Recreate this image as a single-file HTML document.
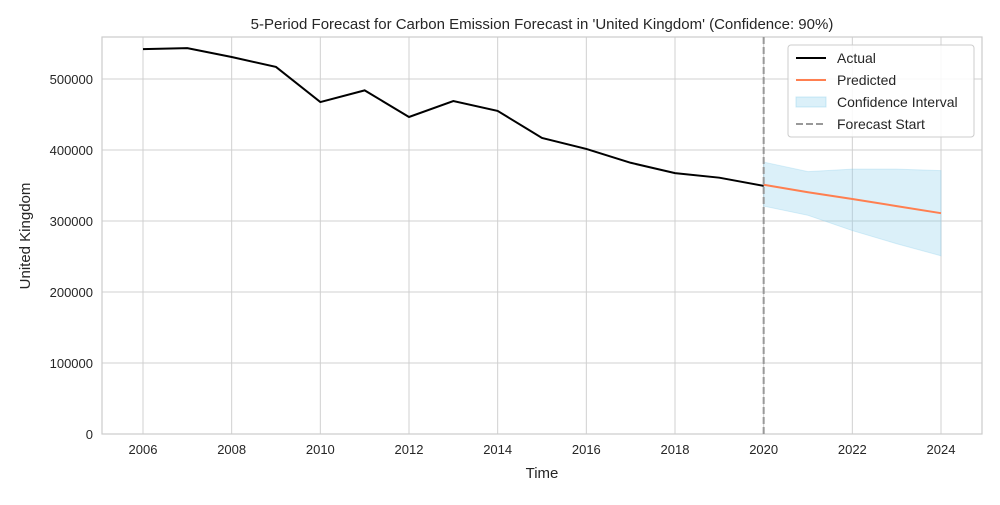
<!DOCTYPE html>
<html><head><meta charset="utf-8"><style>
body{margin:0;background:#fff;font-family:"Liberation Sans","DejaVu Sans",sans-serif;}
svg text{font-family:"Liberation Sans","DejaVu Sans",sans-serif;fill:#262626;}
</style></head><body>
<svg id="chart" width="1000" height="500"></svg>
<script>
const actualYears=[2006,2007,2008,2009,2010,2011,2012,2013,2014,2015,2016,2017,2018,2019,2020];
const actualValues=[542000,543500,531000,517000,467500,484000,446500,469000,455000,417000,401500,382000,367500,361000,349500];
const predYears=[2020,2021,2022,2023,2024];
const predValues=[351000,340500,331000,321000,311000];
const ciUpper=[383000,369500,373000,373000,371000];
const ciLower=[321000,308000,286500,268000,251000];
const xTicks=[2006,2008,2010,2012,2014,2016,2018,2020,2022,2024];
const yTicks=[0,100000,200000,300000,400000,500000];
const forecastStart=2020;

const L=102,R=982,T=37,B=434;
const X=v=>143+(v-2006)*(941-143)/18;
const Y=v=>B-v*(B-79)/500000;
const svg=document.getElementById('chart');
const NS='http://www.w3.org/2000/svg';
function mk(tag,attrs,parent){const e=document.createElementNS(NS,tag);for(const k in attrs)e.setAttribute(k,attrs[k]);(parent||svg).appendChild(e);return e;}

const grid=mk('g',{});


xTicks.forEach(t=>{mk('line',{x1:X(t),x2:X(t),y1:T,y2:B,stroke:'#d0d0d0','stroke-width':1},grid);
 const tx=mk('text',{x:X(t),y:B+20,'text-anchor':'middle','font-size':13});tx.textContent=t;
 
 });
yTicks.forEach(t=>{mk('line',{x1:L,x2:R,y1:Y(t),y2:Y(t),stroke:'#d0d0d0','stroke-width':1},grid);
 const tx=mk('text',{x:L-9,y:Y(t)+5,'text-anchor':'end','font-size':13});tx.textContent=t;
 
 });
const frame=mk('rect',{x:L,y:T,width:R-L,height:B-T,fill:'none',stroke:'#cccccc','stroke-width':1.2});



let d=predYears.map((y,i)=>(i?'L':'M')+X(y)+','+Y(ciUpper[i])).join('');
for(let i=predYears.length-1;i>=0;i--)d+='L'+X(predYears[i])+','+Y(ciLower[i]);
const ci=mk('path',{d:d+'Z',fill:'#87ceeb','fill-opacity':0.3,stroke:'#87ceeb','stroke-opacity':0.3});



const act=mk('polyline',{points:actualYears.map((y,i)=>X(y)+','+Y(actualValues[i])).join(' '),fill:'none',stroke:'#000','stroke-width':2});


const pr=mk('polyline',{points:predYears.map((y,i)=>X(y)+','+Y(predValues[i])).join(' '),fill:'none',stroke:'#ff7f50','stroke-width':2});


const fs=mk('line',{x1:X(forecastStart),x2:X(forecastStart),y1:T,y2:B,stroke:'#999','stroke-width':2,'stroke-dasharray':'7,3'});



const title=mk('text',{x:542,y:29,'text-anchor':'middle','font-size':15});
title.textContent="5-Period Forecast for Carbon Emission Forecast in 'United Kingdom' (Confidence: 90%)";


const xt=mk('text',{x:542,y:478,'text-anchor':'middle','font-size':15});xt.textContent='Time';


const yt=mk('text',{x:30,y:236,'text-anchor':'middle','font-size':15,transform:'rotate(-90 30 236)'});yt.textContent='United Kingdom';



const lg=mk('g',{});


mk('rect',{x:788,y:45,width:186,height:92,rx:3,fill:'#fff','fill-opacity':0.85,stroke:'#ccc'},lg);
const items=[['Actual','line','#000'],['Predicted','line','#ff7f50'],['Confidence Interval','patch','#87ceeb'],['Forecast Start','dash','#999']];
items.forEach((it,i)=>{const y=58+i*22;
 if(it[1]=='patch')mk('rect',{x:796,y:y-5,width:30,height:10,fill:it[2],'fill-opacity':0.3,stroke:it[2],'stroke-opacity':0.4},lg);
 else mk('line',{x1:796,x2:826,y1:y,y2:y,stroke:it[2],'stroke-width':2,'stroke-dasharray':it[1]=='dash'?'7,3':'none'},lg);
 const t=mk('text',{x:837,y:y+5,'font-size':14},lg);t.textContent=it[0];
 
 });
</script>
</body></html>
